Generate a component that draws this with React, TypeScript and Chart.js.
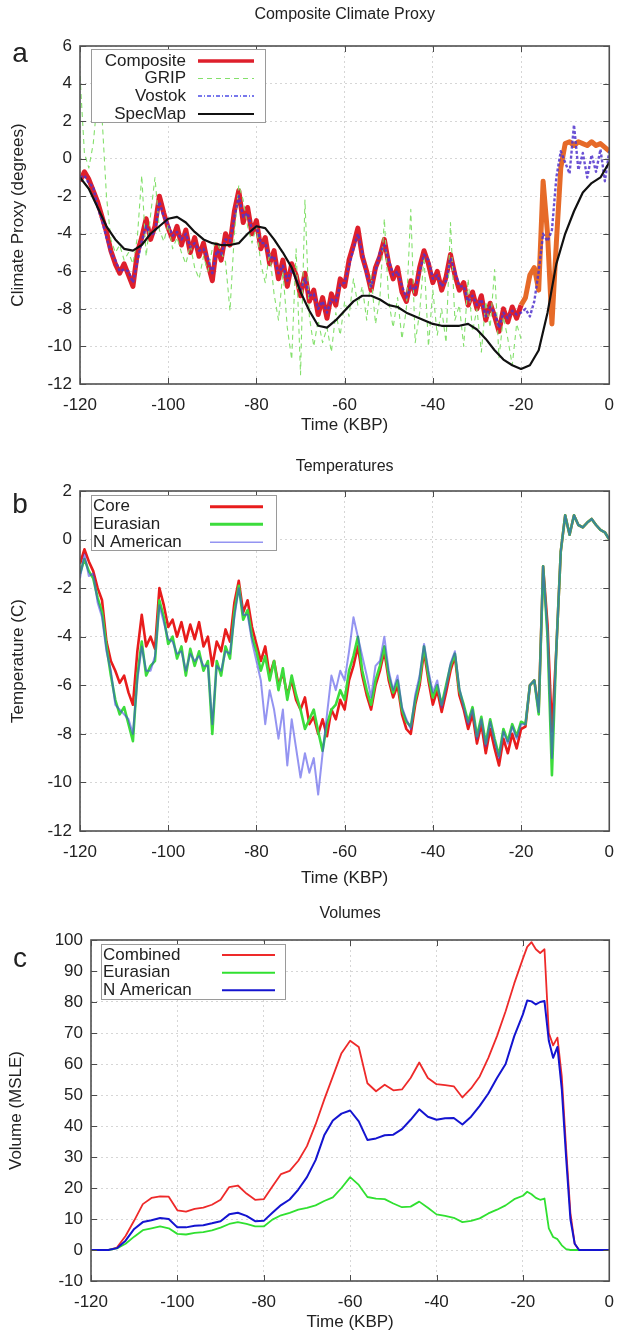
import React, { useEffect, useRef } from "react";
import { Chart, registerables } from "chart.js";

Chart.register(...registerables);

const FONT = "'Liberation Sans', Arial, Helvetica, sans-serif";
const TEXT = "#222";

// ---------- time axes (kyr before present) ----------
const years = [
  -120, -119, -118, -117, -116, -115, -114, -113, -112, -111,
  -110, -109, -108, -107, -106, -105, -104, -103, -102, -101,
  -100, -99, -98, -97, -96, -95, -94, -93, -92, -91,
  -90, -89, -88, -87, -86, -85, -84, -83, -82, -81,
  -80, -79, -78, -77, -76, -75, -74, -73, -72, -71,
  -70, -69, -68, -67, -66, -65, -64, -63, -62, -61,
  -60, -59, -58, -57, -56, -55, -54, -53, -52, -51,
  -50, -49, -48, -47, -46, -45, -44, -43, -42, -41,
  -40, -39, -38, -37, -36, -35, -34, -33, -32, -31,
  -30, -29, -28, -27, -26, -25, -24, -23, -22, -21,
  -20, -19, -18, -17, -16, -15, -14, -13, -12, -11,
  -10, -9, -8, -7, -6, -5, -4, -3, -2, -1,
  0,
];

const specTimes = [
  -120, -118, -116, -114, -112, -110, -108, -106, -104, -102,
  -100, -98, -96, -94, -92, -90, -88, -86, -84, -82,
  -80, -78, -76, -74, -72, -70, -68, -66, -64, -62,
  -60, -58, -56, -54, -52, -50, -48, -46, -44, -42,
  -40, -38, -36, -34, -32, -30, -28, -26, -24, -22,
  -20, -18, -16, -14, -12, -10, -8, -6, -4, -2,
  0,
];

const volTimes = [
  -120, -118, -116, -114, -112, -110, -108, -106, -104, -102,
  -100, -98, -96, -94, -92, -90, -88, -86, -84, -82,
  -80, -78, -76, -74, -72, -70, -68, -66, -64, -62,
  -60, -58, -56, -54, -52, -50, -48, -46, -44, -42,
  -40, -38, -36, -34, -32, -30, -28, -26, -24, -22,
  -20, -19, -18, -17, -16, -15, -14, -13, -12, -11,
  -10, -9, -8, -7, -6, -5, -4, -3, -2, -1,
  0,
];

// ---------- tick labels ----------
const xTickValues = [-120, -100, -80, -60, -40, -20, 0];
const yTicksA = [-12, -10, -8, -6, -4, -2, 0, 2, 4, 6];
const yTicksB = [-12, -10, -8, -6, -4, -2, 0, 2];
const yTicksC = [-10, 0, 10, 20, 30, 40, 50, 60, 70, 80, 90, 100];

// ---------- panel a: Composite Climate Proxy (degrees) ----------
const composite = [
  -1.2, -0.7, -1.1, -1.7, -2.3, -3.1, -3.9, -4.9, -5.6, -6.1,
  -5.6, -6.2, -6.8, -5.0, -4.2, -3.2, -4.3, -3.6, -2.0, -2.9,
  -3.7, -4.3, -3.6, -4.6, -3.8, -5.0, -4.2, -5.2, -4.5, -5.6,
  -6.5, -4.6, -5.4, -4.0, -4.6, -2.8, -1.7, -3.4, -2.6, -4.0,
  -3.3, -4.8, -4.2, -5.6, -4.9, -6.4, -5.4, -6.8, -5.6, -6.2,
  -7.3, -6.1, -7.6, -7.0, -8.3, -7.4, -8.5, -7.2, -7.8, -6.4,
  -6.8, -5.4, -4.6, -3.7, -5.2, -6.0, -7.0, -5.8, -5.2, -4.3,
  -5.6, -6.4, -5.8, -7.1, -7.6, -6.5, -7.2, -5.8, -4.9, -5.6,
  -6.6, -6.0, -7.0, -6.3, -5.1, -6.2, -7.0, -6.6, -7.8, -7.1,
  -8.0, -7.3, -8.6, -7.7, -8.4, -9.2, -8.0, -8.7, -7.9, -8.5,
  -7.8, -7.4, -6.2, -5.8, -7.0, -1.2, -4.0, -8.8, -4.5, -0.5,
  0.8, 0.9, 0.7, 0.9, 0.8, 0.7, 0.9, 0.7, 0.8, 0.6,
  0.4,
];

const grip = [
  4.4, 0.3, -0.5, 0.8, 3.3, 2.2, -2.0, -4.3, -5.0, -4.6,
  -5.4, -5.0, -5.6, -4.2, -0.9, -5.2, -3.0, -1.0, -3.8, -4.4,
  -3.5, -4.8, -4.2, -5.0, -5.6, -4.6, -5.8, -6.4, -5.2, -6.0,
  -4.8, -4.4, -5.0, -5.5, -8.1, -4.0, -1.4, -2.2, -3.6, -4.5,
  -3.6, -5.6, -6.6, -5.0, -7.2, -8.6, -6.0, -9.0, -10.7, -4.8,
  -11.5, -2.2, -8.4, -10.0, -8.6, -9.8, -9.0, -10.3, -8.2, -9.4,
  -7.6, -8.4, -6.4, -7.8, -6.8, -8.6, -6.2, -8.8, -7.4, -3.2,
  -7.6, -9.0, -7.4, -9.6, -8.0, -2.7, -9.8, -8.2, -5.2, -10.0,
  -7.0, -9.4, -8.0, -9.8, -3.4, -8.6, -7.8, -10.0, -6.4, -9.2,
  -8.0, -10.3, -7.6, -9.0, -5.9, -10.6, -8.4, -9.6, -11.0, -8.8,
  -9.6,
];

const vostok = [
  -1.0, -0.9, -1.3, -1.5, -2.6, -3.3, -4.2, -5.0, -5.4, -6.0,
  -5.9, -6.0, -6.6, -5.5, -4.4, -3.6, -4.1, -3.9, -2.3, -3.1,
  -3.5, -4.1, -3.9, -4.3, -4.0, -4.7, -4.5, -4.9, -4.8, -5.3,
  -6.1, -4.9, -5.1, -4.3, -4.4, -3.1, -2.0, -3.1, -2.9, -3.8,
  -3.6, -4.5, -4.5, -5.3, -5.2, -6.1, -5.7, -6.5, -5.9, -6.4,
  -7.0, -6.4, -7.3, -7.2, -8.0, -7.6, -8.2, -7.5, -7.6, -6.7,
  -6.6, -5.7, -4.8, -4.0, -5.0, -6.2, -6.8, -6.0, -5.0, -4.6,
  -5.4, -6.2, -6.0, -6.8, -7.4, -6.8, -7.0, -6.0, -5.1, -5.4,
  -6.4, -6.2, -6.8, -6.5, -5.3, -6.0, -6.8, -6.8, -7.6, -7.3,
  -7.8, -7.5, -8.4, -7.9, -8.2, -9.0, -8.2, -8.5, -8.1, -8.3,
  -8.2, -8.0, -8.4, -7.6, -6.0, -4.0, -4.4, -3.8, -1.0, 0.4,
  -0.2, -0.8, 1.8, -0.6, 0.3, -1.0, 0.2, -0.7, 0.5, -1.2,
  0.4,
];

const specMap = [
  -1.0, -1.6, -2.6, -3.6, -4.3, -4.8, -4.9, -4.6, -4.0, -3.6,
  -3.2, -3.1, -3.4, -3.9, -4.3, -4.5, -4.6, -4.6, -4.5, -4.0,
  -3.6, -3.7, -4.3, -5.0, -5.8, -7.1, -8.1, -8.9, -9.0, -8.6,
  -8.1, -7.6, -7.3, -7.3, -7.5, -7.8, -7.9, -8.2, -8.4, -8.6,
  -8.8, -8.9, -8.9, -8.9, -8.8, -9.1, -9.6, -10.2, -10.7, -11.0,
  -11.2, -11.0, -10.2, -8.2, -5.6, -4.0, -2.8, -1.8, -1.3, -1.0,
  -0.2,
];

// ---------- panel b: Temperatures (C) ----------
const tempCore = [
  -1.0, -0.4, -0.9, -1.3, -2.0, -2.5, -4.2, -5.0, -5.4, -5.9,
  -5.6, -6.3, -6.8, -4.6, -3.1, -4.4, -4.0, -4.5, -2.0, -2.7,
  -3.6, -3.3, -4.0, -3.4, -4.2, -3.5, -4.1, -3.4, -4.4, -4.0,
  -5.2, -4.2, -4.6, -3.7, -4.2, -2.6, -1.7, -3.0, -2.5, -3.6,
  -4.3, -5.0, -4.4, -5.6, -5.0, -6.0, -5.5, -6.4, -5.8, -6.6,
  -7.0, -6.5, -7.6, -7.3, -8.0, -7.4, -8.1, -7.0, -7.4, -6.6,
  -7.0, -5.8, -5.2, -4.4, -5.6, -6.4, -7.0, -6.0, -5.4, -4.6,
  -5.8, -6.5, -6.0, -7.2, -7.8, -8.0, -6.8, -6.0, -4.6, -5.8,
  -6.8, -6.2, -7.1, -6.3, -5.4, -4.8, -6.4, -7.0, -7.8, -7.2,
  -8.4, -7.6, -8.8, -7.8, -8.6, -9.3, -8.2, -8.8, -8.0, -8.6,
  -7.8, -7.7, -6.0, -5.8, -7.0, -1.1, -3.5, -7.9, -4.5, -0.5,
  1.0, 0.2, 1.0, 0.6, 0.5, 0.7, 0.85, 0.6, 0.4, 0.3,
  0.0,
];

const tempEurasian = [
  -1.4, -0.8, -1.3, -1.6, -2.4, -3.0, -4.4, -5.6, -6.6, -7.2,
  -6.9, -7.6, -8.3, -5.6, -4.2, -5.6, -5.2, -5.0, -2.5, -3.2,
  -4.3, -4.0, -4.9, -4.4, -5.6, -4.5, -5.2, -4.6, -5.4, -5.0,
  -8.0, -5.0, -5.6, -4.4, -4.9, -3.0, -1.9, -3.3, -2.9, -4.0,
  -4.6, -5.4, -4.8, -5.8, -5.0, -6.2, -5.3, -6.6, -5.6, -6.4,
  -7.0, -7.8, -7.4, -7.0, -7.9, -8.7, -7.6, -7.0, -6.8, -6.2,
  -6.6, -5.4, -4.8, -4.0, -5.4, -6.2, -6.8, -5.8, -5.2, -4.4,
  -5.6, -6.3, -5.8, -7.0, -7.5, -7.7, -6.6, -5.8, -4.4, -5.6,
  -6.5, -6.0, -6.8, -6.0, -5.2, -4.7, -6.2, -6.8, -7.5, -6.9,
  -8.1, -7.3, -8.4, -7.4, -8.2, -8.9, -7.8, -8.3, -7.6, -8.1,
  -7.5, -7.6, -6.0, -5.8, -7.2, -1.1, -4.0, -9.7, -4.5, -0.5,
  1.0, 0.2, 1.0, 0.6, 0.5, 0.7, 0.85, 0.6, 0.4, 0.3,
  0.0,
];

const tempNAmerican = [
  -1.6, -0.6, -1.5, -1.4, -2.6, -3.2, -4.6, -5.4, -6.8, -7.0,
  -7.2, -7.4, -8.0, -5.8, -4.4, -5.4, -5.4, -4.8, -2.7, -3.4,
  -4.1, -4.2, -4.7, -4.6, -5.4, -4.7, -5.0, -4.8, -5.2, -5.2,
  -7.6, -5.2, -5.4, -4.6, -4.7, -3.2, -2.0, -3.1, -3.1, -4.2,
  -5.0, -5.8, -7.6, -6.2, -7.0, -8.2, -7.0, -9.3, -7.4, -8.6,
  -9.8, -8.8, -9.6, -9.0, -10.5, -8.8, -7.2, -5.6, -6.2, -5.4,
  -5.8, -4.6, -3.2, -4.0, -4.8, -5.6, -6.5, -5.2, -5.0, -4.0,
  -5.4, -6.2, -5.6, -6.9, -7.4, -7.8, -6.4, -5.6, -4.3, -5.4,
  -6.3, -5.8, -6.9, -6.1, -5.1, -4.6, -6.1, -6.9, -7.6, -7.0,
  -8.2, -7.4, -8.5, -7.5, -8.3, -9.0, -7.9, -8.4, -7.7, -8.2,
  -7.6, -7.6, -6.0, -5.8, -7.1, -1.1, -3.8, -9.0, -4.5, -0.5,
  1.0, 0.2, 1.0, 0.6, 0.5, 0.7, 0.85, 0.6, 0.4, 0.3,
  0.0,
];

// ---------- panel c: Volumes (MSLE) ----------
const volCombined = [
  0, 0, 0, 0.8, 4.5, 9.5, 14.8, 16.8, 17.3, 17.2,
  12.8, 12.4, 13.3, 13.7, 14.6, 16.2, 20.3, 20.8, 18.2, 16.2,
  16.4, 20.5, 24.5, 25.5, 28.8, 33.5, 40.5, 48.5, 56.0, 63.5,
  67.5, 65.5, 53.8, 51.2, 53.3, 51.5, 51.8, 55.5, 60.5, 55.5,
  53.5, 53.2, 52.8, 49.2, 52.1, 56.0, 62.0, 69.0, 77.0, 86.0,
  94.0, 97.8, 99.3, 97.0, 95.8, 97.0, 70.0, 66.0, 68.5, 56.0,
  33.0, 12.0, 2.0, 0, 0, 0, 0, 0, 0, 0,
  0,
];

const volEurasian = [
  0, 0, 0, 0.5, 2.0, 4.3, 6.4, 7.0, 7.6, 7.0,
  5.2, 5.0, 5.5, 5.8, 6.3, 7.2, 8.4, 9.0, 8.4, 7.6,
  7.6, 9.8, 11.2, 12.0, 13.0, 13.6, 14.4, 15.8, 17.0, 20.0,
  23.5, 21.0, 17.1, 16.6, 16.4, 15.0, 13.8, 14.0, 15.6, 13.6,
  11.5, 11.0, 10.4, 9.0, 9.4, 10.2, 11.8, 13.0, 14.4, 16.4,
  17.5, 18.8, 18.0, 16.8, 16.2, 16.6, 7.0, 4.2, 3.5, 1.5,
  0.3, 0, 0, 0, 0, 0, 0, 0, 0, 0,
  0,
];

const volNAmerican = [
  0, 0, 0, 0.6, 3.0, 6.8, 9.0, 9.6, 10.3, 10.0,
  7.3, 7.3, 7.8, 8.0, 8.6, 9.3, 11.5, 12.0, 11.0, 9.3,
  9.4, 12.0, 14.5, 16.3, 19.5, 23.5, 29.0, 37.0, 41.8, 44.0,
  45.0, 41.5, 35.5, 36.0, 37.0, 37.2, 39.0, 42.0, 45.4, 43.0,
  42.0, 42.5, 42.6, 40.5, 43.0, 46.5, 50.5, 55.5, 60.0, 69.0,
  76.0, 80.5, 80.2, 79.2, 80.0, 80.3, 67.5, 62.0, 65.5, 52.0,
  30.0, 10.0, 2.0, 0, 0, 0, 0, 0, 0, 0,
  0,
];

// ---------- colours ----------
const C_COMPOSITE = "#de1f2c";
const C_COMPOSITE_LATE = "#e66a28";
const C_GRIP = "#84e06c";
const C_VOSTOK = "#4c4ce6";
const C_VOSTOK_LINE = "rgba(80,50,205,0.85)";
const C_SPEC = "#111111";
const C_CORE = "#e81c1c";
const C_EUR = "#3cdc3c";
const C_NAM_T = "rgba(60,60,230,0.55)";
const C_COMB = "#ee2a2a";
const C_EUR_V = "#30e030";
const C_NAM_V = "#1414d0";

const pts = (xs: number[], ys: number[]) => ys.map((y, i) => ({ x: xs[i], y }));

type LegendItem = { label: string; color: string; width: number; dash?: number[] };
type Layout = {
  height: number;
  padTop: number;
  xHeight: number;
  yWidth: number;
  ymin: number;
  ymax: number;
  yTicks: number[];
  title: string;
  titleY: number;
  letter: string;
  letterY: number;
  yTitle: string;
  yTitleX: number;
  xTitleY: number;
  legend: {
    box: [number, number, number, number];
    align: "left" | "right";
    textX: number;
    lineX: [number, number];
    rows: number[];
    items: LegendItem[];
  };
};

function decorPlugin(L: Layout) {
  return {
    id: "decor",
    afterDraw(chart: any) {
      const { ctx, chartArea: a } = chart;
      const sx = chart.scales.x;
      const sy = chart.scales.y;
      ctx.save();
      ctx.setLineDash([]);
      // inward tick marks on all four sides
      ctx.strokeStyle = "#4a4a4a";
      ctx.lineWidth = 1;
      ctx.beginPath();
      for (const t of sx.ticks) {
        const px = Math.round(sx.getPixelForValue(t.value)) + 0.5;
        ctx.moveTo(px, a.bottom);
        ctx.lineTo(px, a.bottom - 6);
        ctx.moveTo(px, a.top);
        ctx.lineTo(px, a.top + 6);
      }
      for (const t of sy.ticks) {
        const py = Math.round(sy.getPixelForValue(t.value)) + 0.5;
        ctx.moveTo(a.left, py);
        ctx.lineTo(a.left + 6, py);
        ctx.moveTo(a.right, py);
        ctx.lineTo(a.right - 6, py);
      }
      ctx.stroke();
      // frame
      ctx.strokeStyle = "#505050";
      ctx.lineWidth = 1.6;
      ctx.strokeRect(a.left, a.top, a.right - a.left, a.bottom - a.top);

      // legend
      const lg = L.legend;
      const [x0, y0, x1, y1] = lg.box;
      ctx.fillStyle = "#ffffff";
      ctx.fillRect(x0, y0, x1 - x0, y1 - y0);
      ctx.strokeStyle = "#9a9a9a";
      ctx.lineWidth = 1;
      ctx.strokeRect(x0 + 0.5, y0 + 0.5, x1 - x0, y1 - y0);
      ctx.font = `17px ${FONT}`;
      ctx.textBaseline = "middle";
      ctx.fillStyle = TEXT;
      lg.items.forEach((it, i) => {
        const y = lg.rows[i];
        ctx.textAlign = lg.align;
        ctx.fillStyle = TEXT;
        ctx.fillText(it.label, lg.textX, y);
        ctx.save();
        ctx.strokeStyle = it.color;
        ctx.lineWidth = it.width;
        ctx.setLineDash(it.dash || []);
        ctx.beginPath();
        ctx.moveTo(lg.lineX[0], y);
        ctx.lineTo(lg.lineX[1], y);
        ctx.stroke();
        ctx.restore();
      });

      // titles
      const cx = (a.left + a.right) / 2;
      ctx.fillStyle = TEXT;
      ctx.textAlign = "center";
      ctx.textBaseline = "middle";
      ctx.font = `16px ${FONT}`;
      ctx.fillText(L.title, cx, L.titleY);
      ctx.font = `17px ${FONT}`;
      ctx.fillText("Time (KBP)", cx, L.xTitleY);
      ctx.save();
      ctx.translate(L.yTitleX, (a.top + a.bottom) / 2);
      ctx.rotate(-Math.PI / 2);
      ctx.fillText(L.yTitle, 0, 0);
      ctx.restore();
      ctx.font = `28px ${FONT}`;
      ctx.textBaseline = "alphabetic";
      ctx.fillText(L.letter, 20, L.letterY);
      ctx.restore();
    },
  };
}

function makeConfig(L: Layout, datasets: any[]) {
  const tickFont = { family: FONT, size: 17 };
  return {
    type: "line" as const,
    data: { datasets },
    options: {
      responsive: false,
      animation: false as const,
      events: [] as any[],
      parsing: false as const,
      normalized: true,
      layout: { padding: { left: 0, right: 5, top: L.padTop, bottom: 0 } },
      plugins: {
        legend: { display: false },
        tooltip: { enabled: false },
        title: { display: false },
      },
      elements: { point: { radius: 0 }, line: { tension: 0, borderJoinStyle: "round" as const } },
      scales: {
        x: {
          type: "linear" as const,
          min: -120,
          max: 0,
          afterBuildTicks: (s: any) => {
            s.ticks = xTickValues.map((v) => ({ value: v }));
          },
          ticks: { font: tickFont, color: TEXT, padding: 11, maxRotation: 0, autoSkip: false },
          grid: { color: "#d6d6d6", drawTicks: false, lineWidth: 1 },
          border: { display: false, dash: [2, 3] },
          afterFit: (s: any) => {
            s.height = L.xHeight;
          },
        },
        y: {
          type: "linear" as const,
          min: L.ymin,
          max: L.ymax,
          afterBuildTicks: (s: any) => {
            s.ticks = L.yTicks.map((v) => ({ value: v }));
          },
          ticks: { font: tickFont, color: TEXT, padding: 8, autoSkip: false },
          grid: { color: "#d6d6d6", drawTicks: false, lineWidth: 1 },
          border: { display: false, dash: [2, 3] },
          afterFit: (s: any) => {
            s.width = L.yWidth;
          },
        },
      },
    },
    plugins: [decorPlugin(L)],
  };
}

const layoutA: Layout = {
  height: 440,
  padTop: 46,
  xHeight: 56,
  yWidth: 80,
  ymin: -12,
  ymax: 6,
  yTicks: yTicksA,
  title: "Composite Climate Proxy",
  titleY: 15,
  letter: "a",
  letterY: 62,
  yTitle: "Climate Proxy (degrees)",
  yTitleX: 18,
  xTitleY: 425,
  legend: {
    box: [91, 49, 265, 122],
    align: "right",
    textX: 186,
    lineX: [198, 254],
    rows: [61, 78.5, 96, 114],
    items: [
      { label: "Composite", color: C_COMPOSITE, width: 3.5 },
      { label: "GRIP", color: C_GRIP, width: 1.2, dash: [5, 4] },
      { label: "Vostok", color: C_VOSTOK, width: 1.5, dash: [4, 2, 1, 2] },
      { label: "SpecMap", color: C_SPEC, width: 2.2 },
    ],
  },
};

const layoutB: Layout = {
  height: 450,
  padTop: 51,
  xHeight: 59,
  yWidth: 80,
  ymin: -12,
  ymax: 2,
  yTicks: yTicksB,
  title: "Temperatures",
  titleY: 27,
  letter: "b",
  letterY: 73,
  yTitle: "Temperature (C)",
  yTitleX: 18,
  xTitleY: 438,
  legend: {
    box: [91, 55, 276, 110],
    align: "left",
    textX: 93,
    lineX: [210, 263],
    rows: [66.7, 84.3, 102.3],
    items: [
      { label: "Core", color: C_CORE, width: 3 },
      { label: "Eurasian", color: C_EUR, width: 3 },
      { label: "N American", color: C_NAM_T, width: 1.5 },
    ],
  },
};

const layoutC: Layout = {
  height: 447,
  padTop: 50,
  xHeight: 56,
  yWidth: 91,
  ymin: -10,
  ymax: 100,
  yTicks: yTicksC,
  title: "Volumes",
  titleY: 24,
  letter: "c",
  letterY: 77,
  yTitle: "Volume (MSLE)",
  yTitleX: 16,
  xTitleY: 432,
  legend: {
    box: [101, 54, 285, 109],
    align: "left",
    textX: 103,
    lineX: [222, 275],
    rows: [65, 82.7, 100.3],
    items: [
      { label: "Combined", color: C_COMB, width: 2 },
      { label: "Eurasian", color: C_EUR_V, width: 2 },
      { label: "N American", color: C_NAM_V, width: 2 },
    ],
  },
};

const datasetsA = () => [
  { label: "SpecMap", data: pts(specTimes, specMap), borderColor: C_SPEC, borderWidth: 2.2 },
  {
    label: "Vostok",
    data: pts(years, vostok),
    borderColor: C_VOSTOK_LINE,
    borderWidth: 2.4,
    borderDash: [3, 2],
  },
  { label: "GRIP", data: pts(years, grip), borderColor: C_GRIP, borderWidth: 1.1, borderDash: [5, 4] },
  {
    label: "Composite",
    data: pts(years, composite),
    borderColor: C_COMPOSITE,
    borderWidth: 5,
    segment: {
      borderColor: (c: any) => (c.p0.parsed.x >= -20 ? C_COMPOSITE_LATE : undefined),
    },
  },
];

const datasetsB = () => [
  { label: "N American", data: pts(years, tempNAmerican), borderColor: C_NAM_T, borderWidth: 2 },
  { label: "Eurasian", data: pts(years, tempEurasian), borderColor: C_EUR, borderWidth: 2.6 },
  { label: "Core", data: pts(years, tempCore), borderColor: C_CORE, borderWidth: 2.6 },
];

const datasetsC = () => [
  { label: "N American", data: pts(volTimes, volNAmerican), borderColor: C_NAM_V, borderWidth: 2 },
  { label: "Eurasian", data: pts(volTimes, volEurasian), borderColor: C_EUR_V, borderWidth: 1.8 },
  { label: "Combined", data: pts(volTimes, volCombined), borderColor: C_COMB, borderWidth: 1.8 },
];

function Panel({ top, layout, datasets }: { top: number; layout: Layout; datasets: () => any[] }) {
  const ref = useRef<HTMLCanvasElement>(null);
  useEffect(() => {
    if (!ref.current) return;
    const chart = new Chart(ref.current, makeConfig(layout, datasets()) as any);
    return () => chart.destroy();
  }, []);
  return (
    <canvas
      ref={ref}
      width={625}
      height={layout.height}
      style={{ position: "absolute", left: 0, top, width: 625, height: layout.height, display: "block" }}
    />
  );
}

export default function App() {
  return (
    <div style={{ position: "absolute", left: 0, top: 0, width: 625, height: 1337, background: "#fff" }}>
      <Panel top={0} layout={layoutA} datasets={datasetsA} />
      <Panel top={440} layout={layoutB} datasets={datasetsB} />
      <Panel top={890} layout={layoutC} datasets={datasetsC} />
    </div>
  );
}
